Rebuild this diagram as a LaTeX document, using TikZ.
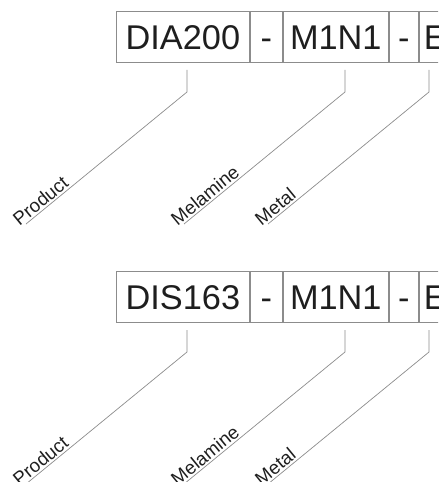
\documentclass[tikz,border=0pt]{standalone}
\usepackage{fontspec}
\setmainfont{Liberation Sans}
\usepackage{xcolor}
\definecolor{rule}{HTML}{8C8C8C}
\definecolor{ink}{HTML}{1E1E1E}

\begin{document}
\begin{tikzpicture}[x=0.03cm,y=-0.03cm,
    cell/.style={draw=rule, line width=0.7pt, minimum height=1.52cm, inner sep=0pt,
      text height=22pt, text depth=0pt,
      anchor=west, text=ink, font=\fontsize{29.3}{32}\selectfont},
    leader/.style={draw=rule, line width=0.6pt},
    tag/.style={font=\fontsize{16}{18}\selectfont, text=ink, inner sep=1.5pt}]
    \useasboundingbox (0,0) rectangle (438,482);
    \clip (0,0) rectangle (438,482);

    % First code: DIA200 - M1N1 - E
    \node[cell, minimum width=3.99cm] (proda) at (116,37) {DIA200};
    \node[cell, minimum width=0.96cm] (dasha) at (proda.east) {-};
    \node[cell, minimum width=3.165cm] (mela) at (dasha.east) {M1N1};
    \node[cell, minimum width=0.87cm] (dashb) at (mela.east) {-};
    \node[cell, minimum width=0.96cm] (meta) at (dashb.east) {E};

    % Leader lines of the first code
    \coordinate (ptopa) at (187,70);  \coordinate (pkneea) at (187,92);  \coordinate (pfoota) at (26,224);
    \coordinate (mtopa) at (345,70);  \coordinate (mkneea) at (345,92);  \coordinate (mfoota) at (184,224);
    \coordinate (ttopa) at (429,70);  \coordinate (tkneea) at (429,92);  \coordinate (tfoota) at (268,224);
    \draw[leader] (pfoota) -- (pkneea) node[tag, pos=-0.04, sloped, anchor=south west] {Product} -- (ptopa);
    \draw[leader] (mfoota) -- (mkneea) node[tag, pos=-0.04, sloped, anchor=south west] {Melamine} -- (mtopa);
    \draw[leader] (tfoota) -- (tkneea) node[tag, pos=-0.04, sloped, anchor=south west] {Metal} -- (ttopa);

    % Second code: DIS163 - M1N1 - E
    \node[cell, minimum width=3.99cm] (prodb) at (116,297) {DIS163};
    \node[cell, minimum width=0.96cm] (dashc) at (prodb.east) {-};
    \node[cell, minimum width=3.165cm] (melb) at (dashc.east) {M1N1};
    \node[cell, minimum width=0.87cm] (dashd) at (melb.east) {-};
    \node[cell, minimum width=0.96cm] (metb) at (dashd.east) {E};

    % Leader lines of the second code
    \coordinate (ptopb) at (187,330);  \coordinate (pkneeb) at (187,352);  \coordinate (pfootb) at (26,484);
    \coordinate (mtopb) at (345,330);  \coordinate (mkneeb) at (345,352);  \coordinate (mfootb) at (184,484);
    \coordinate (ttopb) at (429,330);  \coordinate (tkneeb) at (429,352);  \coordinate (tfootb) at (268,484);
    \draw[leader] (pfootb) -- (pkneeb) node[tag, pos=-0.04, sloped, anchor=south west] {Product} -- (ptopb);
    \draw[leader] (mfootb) -- (mkneeb) node[tag, pos=-0.04, sloped, anchor=south west] {Melamine} -- (mtopb);
    \draw[leader] (tfootb) -- (tkneeb) node[tag, pos=-0.04, sloped, anchor=south west] {Metal} -- (ttopb);
\end{tikzpicture}
\end{document}
